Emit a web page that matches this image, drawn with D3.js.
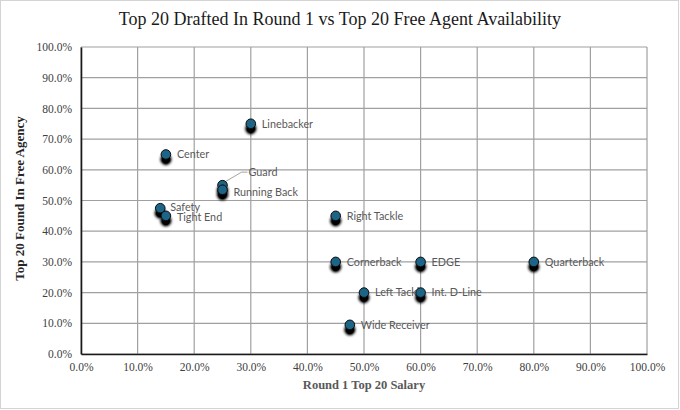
<!DOCTYPE html>
<html>
<head>
<meta charset="utf-8">
<style>
  html, body { margin: 0; padding: 0; background: #fff; }
</style>
</head>
<body>
<svg id="chart" width="680" height="410"></svg>
<script src="https://d3js.org/d3.v7.min.js"></script>
<script>
// data (share of salary, share found in free agency)
const positions = ['Linebacker', 'Center', 'Guard', 'Running Back', 'Safety', 'Tight End',
                   'Right Tackle', 'Cornerback', 'EDGE', 'Quarterback', 'Left Tackle',
                   'Int. D-Line', 'Wide Receiver'];
const salary = [0.30, 0.15, 0.25, 0.25, 0.14, 0.15, 0.45, 0.45, 0.60, 0.80, 0.50, 0.60, 0.475];
const freeAgency = [0.75, 0.65, 0.55, 0.535, 0.475, 0.45, 0.45, 0.30, 0.30, 0.30, 0.20, 0.20, 0.095];
const tickValues = [0, 0.1, 0.2, 0.3, 0.4, 0.5, 0.6, 0.7, 0.8, 0.9, 1.0];

const points = positions.map((name, i) => ({name, x: salary[i], y: freeAgency[i]}));

const svg = d3.select('#chart');
const margin = {top: 47, right: 33, bottom: 56, left: 81};
const width = +svg.attr('width');
const height = +svg.attr('height');
const innerWidth = width - margin.left - margin.right;
const innerHeight = height - margin.top - margin.bottom;

// chart frame
svg.append('rect')
   .attr('x', 0.5).attr('y', 0.5)
   .attr('width', width - 2).attr('height', height - 2)
   .attr('fill', '#fff')
   .attr('stroke', '#d4d4d4');

const defs = svg.append('defs');
const shadow = defs.append('filter')
   .attr('id', 'shadow')
   .attr('x', '-100%').attr('y', '-100%')
   .attr('width', '300%').attr('height', '300%');
shadow.append('feGaussianBlur').attr('in', 'SourceAlpha').attr('stdDeviation', 1.8);
shadow.append('feOffset').attr('dx', 0).attr('dy', 5).attr('result', 'off');
shadow.append('feComponentTransfer').append('feFuncA').attr('type', 'linear').attr('slope', 1.3);
const merge = shadow.append('feMerge');
merge.append('feMergeNode');
merge.append('feMergeNode').attr('in', 'SourceGraphic');

const g = svg.append('g')
   .attr('transform', `translate(${margin.left}, ${margin.top})`);

const xScale = d3.scaleLinear().domain([0, 1]).range([0, innerWidth]);
const yScale = d3.scaleLinear().domain([0, 1]).range([innerHeight, 0]);

const fmt = d3.format('.1%');

// grid
g.append('g')
 .attr('class', 'grid')
 .selectAll('line.v')
 .data(tickValues)
 .join('line')
 .attr('x1', d => xScale(d)).attr('x2', d => xScale(d))
 .attr('y1', 0).attr('y2', innerHeight)
 .attr('stroke', '#a0a0a0').attr('stroke-width', 1.2);

g.append('g')
 .attr('class', 'grid')
 .selectAll('line.h')
 .data(tickValues)
 .join('line')
 .attr('x1', 0).attr('x2', innerWidth)
 .attr('y1', d => yScale(d)).attr('y2', d => yScale(d))
 .attr('stroke', '#a0a0a0').attr('stroke-width', 1.2);

// axes
const xAxis = d3.axisBottom(xScale).tickValues(tickValues).tickFormat(fmt).tickSize(0).tickPadding(9);
const yAxis = d3.axisLeft(yScale).tickValues(tickValues).tickFormat(fmt).tickSize(0).tickPadding(9);

const xg = g.append('g')
 .attr('transform', `translate(0, ${innerHeight})`)
 .call(xAxis);
const yg = g.append('g').call(yAxis);

[xg, yg].forEach(a => {
  a.select('.domain').attr('stroke', '#1a1a1a').attr('stroke-width', 1.6);
  a.selectAll('text')
   .attr('font-family', '"Liberation Serif", "Times New Roman", serif')
   .attr('font-size', 11.5)
   .attr('fill', '#404040');
});

// titles
svg.append('text')
   .attr('x', width / 2).attr('y', 25)
   .attr('text-anchor', 'middle')
   .attr('font-family', '"Liberation Serif", "Times New Roman", serif')
   .attr('font-size', 18)
   .attr('fill', '#1a1a1a')
   .text('Top 20 Drafted In Round 1 vs Top 20 Free Agent Availability');

svg.append('text')
   .attr('x', margin.left + innerWidth / 2).attr('y', 389)
   .attr('text-anchor', 'middle')
   .attr('font-family', '"Liberation Serif", "Times New Roman", serif')
   .attr('font-weight', 'bold')
   .attr('font-size', 12.5)
   .attr('fill', '#595959')
   .text('Round 1 Top 20 Salary');

svg.append('text')
   .attr('transform', `translate(24, ${margin.top + innerHeight / 2 - 2}) rotate(-90)`)
   .attr('text-anchor', 'middle')
   .attr('font-family', '"Liberation Serif", "Times New Roman", serif')
   .attr('font-weight', 'bold')
   .attr('font-size', 13)
   .attr('fill', '#262626')
   .text('Top 20 Found In Free Agency');

// label nudges (Excel data labels that were dragged)
const labelShift = {
  'Guard': {dx: 15, dy: -13, leader: true},
  'Running Back': {dx: 0, dy: 2, leader: false},
  'Safety': {dx: -1, dy: -1, leader: false},
  'Tight End': {dx: 0, dy: 1, leader: false}
};

const labels = g.append('g');
points.forEach(p => {
  const s = labelShift[p.name] || {dx: 0, dy: 0};
  const lx = xScale(p.x) + 11 + s.dx;
  const ly = yScale(p.y) + s.dy;
  if (s.leader) {
    labels.append('path')
      .attr('d', `M${lx - 1},${ly} L${lx - 7},${ly} L${xScale(p.x) + 2},${yScale(p.y) - 3}`)
      .attr('fill', 'none')
      .attr('stroke', '#8c8c8c')
      .attr('stroke-width', 0.8);
  }
  labels.append('text')
    .attr('x', lx).attr('y', ly)
    .attr('dy', '0.35em')
    .attr('font-family', 'Lato, "Noto Sans", sans-serif')
    .attr('font-size', 10.8)
    .attr('fill', '#595959')
    .text(p.name);
});

// markers
g.append('g')
 .selectAll('circle')
 .data(points)
 .join('circle')
 .attr('cx', d => xScale(d.x))
 .attr('cy', d => yScale(d.y))
 .attr('r', 4.8)
 .attr('fill', '#1c6587')
 .attr('stroke', '#0d0d0d')
 .attr('stroke-width', 1)
 .attr('filter', 'url(#shadow)');
</script>
</body>
</html>
